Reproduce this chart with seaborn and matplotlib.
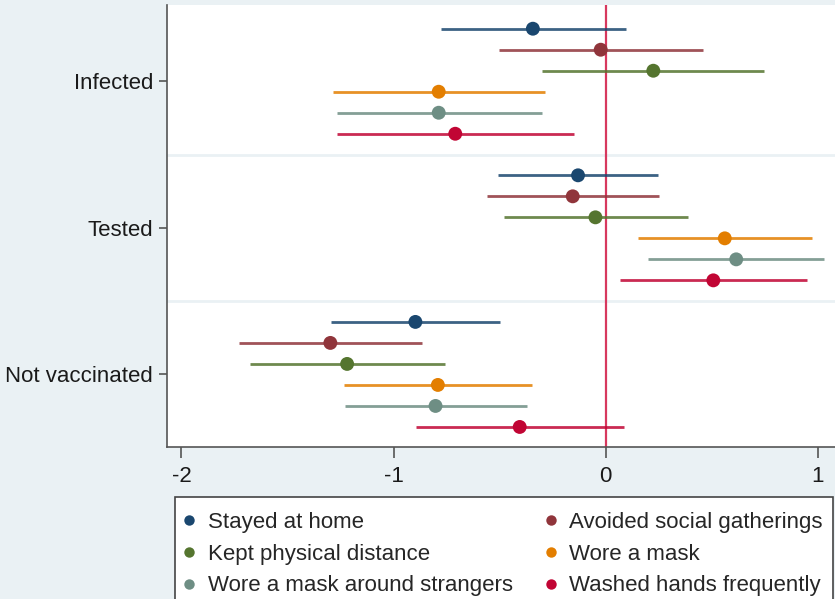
import matplotlib
matplotlib.use("Agg")
import matplotlib.pyplot as plt
from matplotlib.patches import Rectangle
from matplotlib.lines import Line2D
import seaborn as sns
import pandas as pd
import numpy as np

outcomes = ["Infected", "Tested", "Not vaccinated"]
behaviours = ["Stayed at home", "Avoided social gatherings", "Kept physical distance",
              "Wore a mask", "Wore a mask around strangers", "Washed hands frequently"]
colors = ["#1a476f", "#90353b", "#55752f", "#e37e00", "#6e8e84", "#c10534"]

# point estimates, lower and upper bounds per outcome (order of behaviours)
est_infected = [-0.343, -0.023, 0.225, -0.787, -0.787, -0.709]
lo_infected = [-0.777, -0.502, -0.300, -1.287, -1.267, -1.267]
hi_infected = [0.097, 0.459, 0.748, -0.285, -0.302, -0.151]

est_tested = [-0.130, -0.155, -0.048, 0.562, 0.616, 0.508]
lo_tested = [-0.506, -0.560, -0.479, 0.153, 0.202, 0.070]
hi_tested = [0.248, 0.252, 0.390, 0.975, 1.031, 0.948]

est_notvacc = [-0.897, -1.298, -1.219, -0.791, -0.802, -0.405]
lo_notvacc = [-1.295, -1.729, -1.676, -1.233, -1.231, -0.893]
hi_notvacc = [-0.496, -0.864, -0.758, -0.345, -0.370, 0.085]

x_ticks = [-2, -1, 0, 1]

rows = []
for g, (est, lo, hi) in enumerate([(est_infected, lo_infected, hi_infected),
                                   (est_tested, lo_tested, hi_tested),
                                   (est_notvacc, lo_notvacc, hi_notvacc)]):
    for i, b in enumerate(behaviours):
        rows.append(dict(outcome=outcomes[g], behaviour=b, est=est[i], lo=lo[i], hi=hi[i],
                         y=g + (i - 2.5) * 0.1433))
df = pd.DataFrame(rows)

sns.set_theme(style="white")
plt.rcParams["font.family"] = ["Liberation Sans", "DejaVu Sans"]

bg = "#eaf1f4"
fig = plt.figure(figsize=(8.35, 5.99), dpi=100, facecolor=bg)
ax = fig.add_axes([167 / 835, 1 - 447 / 599, 1 - 167 / 835, (447 - 5) / 599])
ax.set_facecolor("white")

# group separators
for yy in [0.5, 1.5]:
    ax.axhline(yy, color=bg, lw=2, zorder=0)

ax.axvline(0, color="#d7385e", lw=1.6, zorder=1)

palette = dict(zip(behaviours, colors))
for b, c in zip(behaviours, colors):
    sub = df[df.behaviour == b]
    ax.hlines(sub.y, sub.lo, sub.hi, color=c, lw=2.0, alpha=0.85, zorder=2)

sns.scatterplot(data=df, x="est", y="y", hue="behaviour", palette=palette,
                hue_order=behaviours, s=100, edgecolor="none", ax=ax, legend=False, zorder=3)

ax.set_xlim((167 - 605.6) / 212.05, (835 - 605.6) / 212.05)
ax.set_ylim(2.495, -0.52)
ax.set_xticks(x_ticks)
ax.set_xticklabels([str(t) for t in x_ticks], fontsize=16, color="#1a1a1a")
ax.set_yticks([0, 1, 2])
ax.set_yticklabels(outcomes, fontsize=16, color="#1a1a1a")
ax.set_xlabel("")
ax.set_ylabel("")
ax.tick_params(axis="x", direction="out", length=8, width=1.2, color="#555555", pad=6, bottom=True)
ax.tick_params(axis="y", direction="out", length=6, width=1.2, color="#555555", pad=4, left=True)
for s in ["top", "right"]:
    ax.spines[s].set_visible(False)
for s in ["left", "bottom"]:
    ax.spines[s].set_color("#555555")
    ax.spines[s].set_linewidth(1.2)

# legend frame
fig.patches.append(Rectangle((175 / 835, -0.05), (833 - 175) / 835, 0.05 + 1 - 497 / 599,
                             transform=fig.transFigure, facecolor="white",
                             edgecolor="#444444", lw=1.2, zorder=-1))
# legend filled column-wise -> reorder so rows read left to right like the original
order = [0, 2, 4, 1, 3, 5]
handles = [Line2D([0], [0], marker="o", linestyle="none", markersize=7.5,
                  markerfacecolor=colors[k], markeredgecolor="none") for k in order]
labels = [behaviours[k] for k in order]
fig.legend(handles, labels, ncol=2, loc="upper left",
           bbox_to_anchor=(180 / 835, 1 - 512 / 599), frameon=False,
           fontsize=16, borderpad=0, handlelength=0.8, handletextpad=0.45,
           columnspacing=1.3, labelspacing=0.48, borderaxespad=0)

fig.savefig("out.png", dpi=100, facecolor=bg)
